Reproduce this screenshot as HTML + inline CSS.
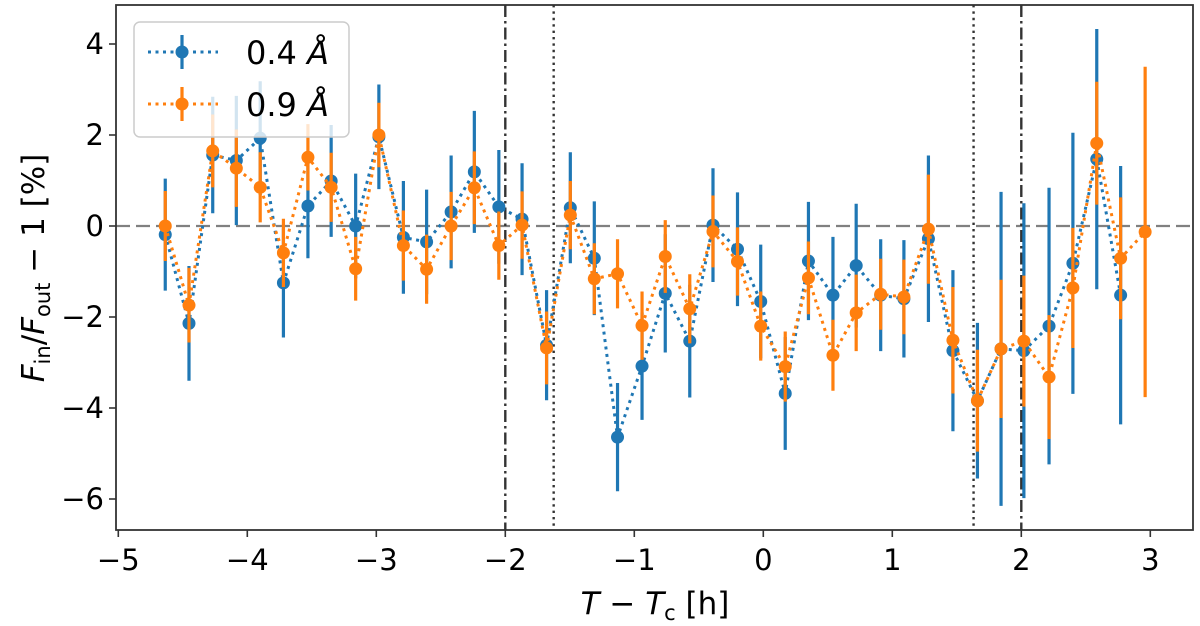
<!DOCTYPE html>
<html><head><meta charset="utf-8"><style>
html,body{margin:0;padding:0;background:#fff;width:1200px;height:626px;overflow:hidden}
svg text{font-family:"DejaVu Sans","Liberation Sans",sans-serif;fill:#000}
</style></head><body>
<svg id="chart" width="1200" height="626" viewBox="0 0 1200 626" xmlns="http://www.w3.org/2000/svg"></svg>
<script>
const tBlue=[-4.636,-4.452,-4.268,-4.085,-3.90,-3.72,-3.53,-3.35,-3.16,-2.98,-2.79,-2.61,-2.42,-2.24,-2.05,-1.87,-1.68,-1.496,-1.31,-1.13,-0.94,-0.76,-0.57,-0.39,-0.20,-0.02,0.17,0.35,0.54,0.72,0.91,1.09,1.28,1.47,1.66,1.843,2.02,2.215,2.40,2.585,2.77];
const vBlue=[-0.19,-2.14,1.56,1.44,1.93,-1.25,0.44,0.99,0,1.96,-0.25,-0.35,0.31,1.19,0.42,0.15,-2.62,0.40,-0.71,-4.64,-3.08,-1.48,-2.53,0.02,-0.51,-1.66,-3.68,-0.77,-1.52,-0.87,-1.52,-1.60,-0.28,-2.74,-3.84,-2.70,-2.74,-2.20,-0.82,1.47,-1.52];
const eBlue=[1.23,1.26,1.28,1.42,1.25,1.2,1.15,1.23,1.15,1.15,1.24,1.15,1.24,1.34,1.25,1.23,1.21,1.22,1.25,1.19,1.18,1.3,1.24,1.25,1.25,1.25,1.24,1.3,1.28,1.36,1.23,1.29,1.83,1.77,1.71,3.45,3.24,3.04,2.87,2.86,2.84];
const tOrange=[-4.636,-4.452,-4.268,-4.085,-3.90,-3.72,-3.53,-3.35,-3.16,-2.98,-2.79,-2.61,-2.42,-2.24,-2.05,-1.87,-1.68,-1.496,-1.31,-1.13,-0.94,-0.76,-0.57,-0.39,-0.20,-0.02,0.17,0.35,0.54,0.72,0.91,1.09,1.28,1.47,1.66,1.843,2.02,2.215,2.40,2.585,2.77,2.96];
const vOrange=[0,-1.74,1.65,1.27,0.85,-0.59,1.51,0.85,-0.94,2.0,-0.43,-0.95,0,0.84,-0.43,0.02,-2.68,0.24,-1.16,-1.05,-2.19,-0.67,-1.82,-0.12,-0.78,-2.2,-3.09,-1.14,-2.84,-1.91,-1.5,-1.56,-0.07,-2.51,-3.84,-2.70,-2.53,-3.32,-1.36,1.82,-0.71,-0.13];
const eOrange=[0.77,0.82,0.8,0.85,0.77,0.75,0.73,0.76,0.7,0.71,0.77,0.76,0.75,0.8,0.75,0.74,0.8,0.75,0.78,0.76,0.75,0.8,0.76,0.79,0.75,0.76,0.77,0.8,0.78,0.84,0.78,0.82,1.2,1.17,1.12,1.52,1.44,1.36,1.32,1.35,1.34,3.63];
const xTicks=[-5,-4,-3,-2,-1,0,1,2,3];
const yTicks=[-6,-4,-2,0,2,4];
const vDashDot=[-2.0,2.0];
const vDotted=[-1.625,1.63];

const NS="http://www.w3.org/2000/svg";
const svg=document.getElementById('chart');
const L=116,R=1193,T=5,B=530;
const X=t=>763.3+129*t;
const Y=v=>226-45.5*v;
function mk(tag,attrs,parent){const e=document.createElementNS(NS,tag);for(const k in attrs)e.setAttribute(k,attrs[k]);(parent||svg).appendChild(e);return e;}
const fmt=n=>(n<0?'\u2212'+Math.abs(n):String(n));

let zl=mk('line',{x1:L,x2:R,y1:Y(0),y2:Y(0),stroke:'#808080','stroke-width':2.2,'stroke-dasharray':'14,6'});


vDashDot.forEach(t=>{const l=mk('line',{x1:X(t),x2:X(t),y1:T,y2:B,stroke:'#333','stroke-width':2.4,'stroke-dasharray':'12,4,2.5,4'});

});
vDotted.forEach(t=>{const l=mk('line',{x1:X(t),x2:X(t),y1:T,y2:B,stroke:'#333','stroke-width':2.4,'stroke-dasharray':'2.4,4'});

});

function series(ts,vs,es,color,name){
  const g=mk('g',{});
  
  
  const pts=ts.map((t,i)=>X(t)+','+Y(vs[i])).join(' ');
  const pl=mk('polyline',{points:pts,fill:'none',stroke:color,'stroke-width':3,'stroke-dasharray':'3,4.5'},g);
  
  
  ts.forEach((t,i)=>{
    const eb=mk('line',{x1:X(t),x2:X(t),y1:Y(vs[i]+es[i]),y2:Y(vs[i]-es[i]),stroke:color,'stroke-width':3.2},g);
    
    
  });
  ts.forEach((t,i)=>{
    const c=mk('circle',{cx:X(t),cy:Y(vs[i]),r:6.5,fill:color},g);
    
    
  });
}
series(tBlue,vBlue,eBlue,'#1f77b4','blue-0.4A');
series(tOrange,vOrange,eOrange,'#ff7f0e','orange-0.9A');

const fr=mk('rect',{x:L,y:T,width:R-L,height:B-T,fill:'none',stroke:'#333','stroke-width':1.8});


xTicks.forEach(t=>{
  mk('line',{x1:X(t),x2:X(t),y1:B,y2:B+7,stroke:'#333','stroke-width':1.6});
  const tx=mk('text',{x:X(t),y:570,'font-size':29,'text-anchor':'middle'});
  tx.textContent=fmt(t);
  
  
});
yTicks.forEach(v=>{
  mk('line',{x1:L-7,x2:L,y1:Y(v),y2:Y(v),stroke:'#333','stroke-width':1.6});
  const tx=mk('text',{x:L-12,y:Y(v)+10,'font-size':29,'text-anchor':'end'});
  tx.textContent=fmt(v);
  
  
});
</script>
<svg style="position:absolute;left:0;top:0" width="1200" height="626">
<text x="655" y="614" font-size="31" text-anchor="middle"><tspan font-style="italic">T</tspan> − <tspan font-style="italic">T</tspan><tspan font-size="21" dy="6">c</tspan><tspan dy="-6"> [h]</tspan></text>
<text transform="translate(44,268) rotate(-90)" font-size="31" text-anchor="middle"><tspan font-style="italic">F</tspan><tspan font-size="21" dy="6">in</tspan><tspan dy="-6">/</tspan><tspan font-style="italic">F</tspan><tspan font-size="21" dy="6">out</tspan><tspan dy="-6"> − 1 [%]</tspan></text>
<g>
<rect x="134" y="22" width="215" height="115" rx="6" fill="#fff" fill-opacity="0.8" stroke="#ccc" stroke-width="1.5"/>
<g>
<line x1="148" x2="218" y1="52" y2="52" stroke="#1f77b4" stroke-width="3" stroke-dasharray="3,4.5"/>
<line x1="182" x2="182" y1="35" y2="69" stroke="#1f77b4" stroke-width="3.2"/>
<circle cx="182" cy="52" r="6.5" fill="#1f77b4"/>
<text x="246" y="64" font-size="32">0.4 <tspan font-style="italic">Å</tspan></text>
</g>
<g>
<line x1="148" x2="218" y1="104" y2="104" stroke="#ff7f0e" stroke-width="3" stroke-dasharray="3,4.5"/>
<line x1="182" x2="182" y1="87" y2="121" stroke="#ff7f0e" stroke-width="3.2"/>
<circle cx="182" cy="104" r="6.5" fill="#ff7f0e"/>
<text x="246" y="116" font-size="32">0.9 <tspan font-style="italic">Å</tspan></text>
</g>
</g>
</svg>
</body></html>
